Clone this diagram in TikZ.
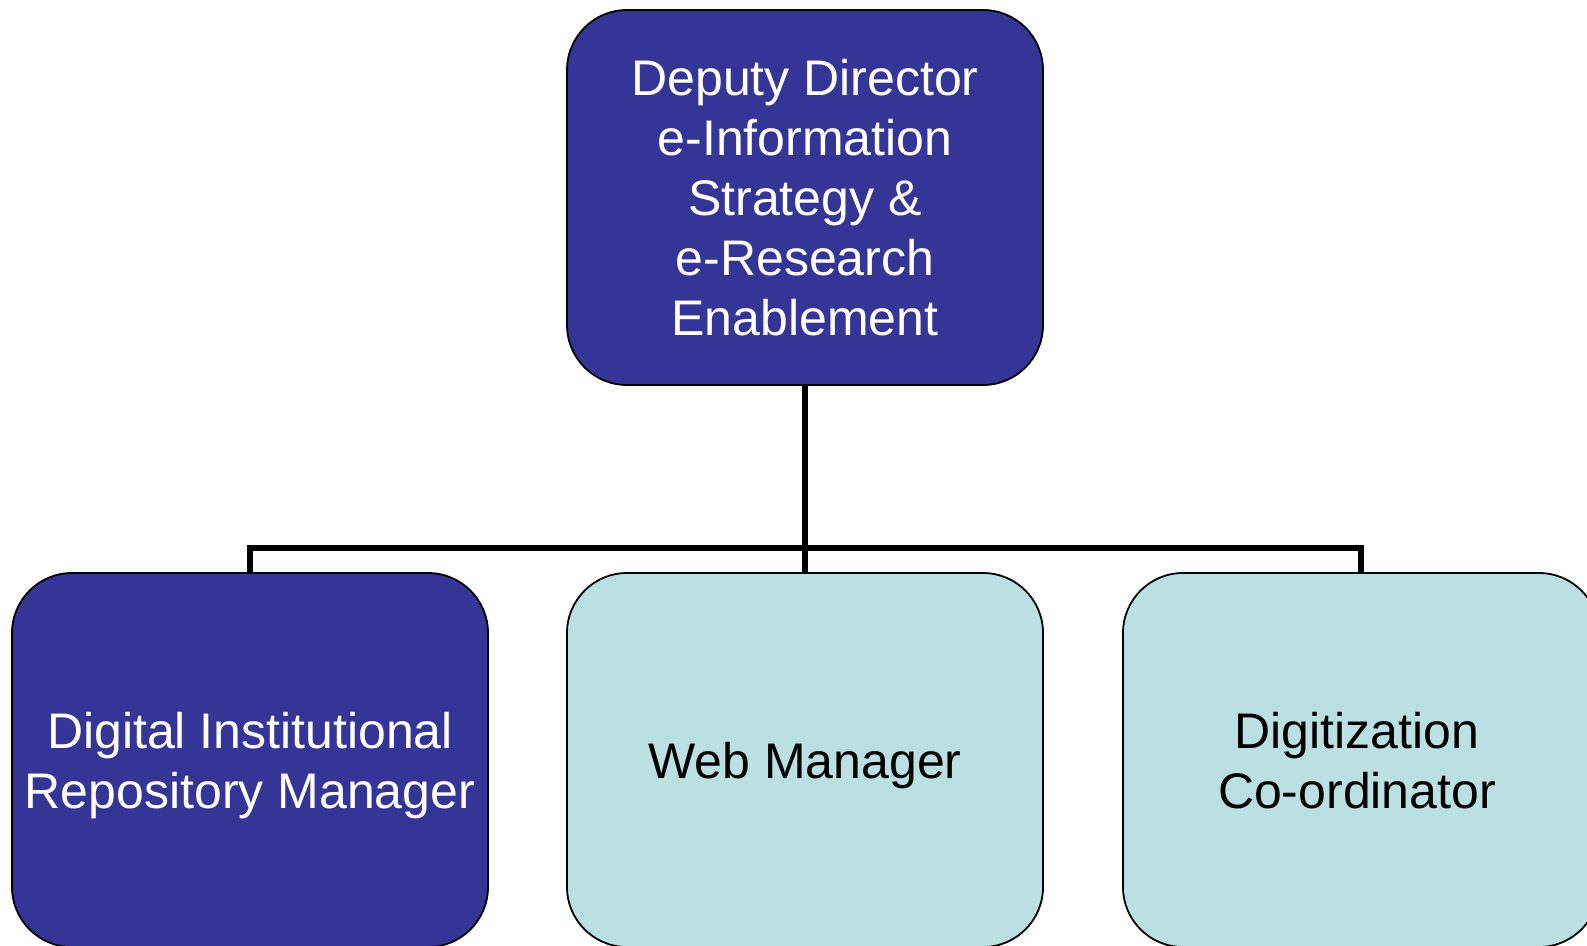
\documentclass[tikz,border=0pt]{standalone}
\usepackage{fontspec}
\setmainfont{Liberation Sans}
\definecolor{darkbox}{RGB}{53,53,151}
\definecolor{lightbox}{RGB}{187,224,227}
\tikzset{
  orgbox/.style={draw=black, line width=1.8pt, rounded corners=60pt, minimum width=476pt, minimum height=374pt, inner sep=0pt},
  darkstyle/.style={orgbox, fill=darkbox},
  lightstyle/.style={orgbox, fill=lightbox},
  boxtext/.style={align=center, inner sep=0pt, font=\fontsize{50}{60}\selectfont},
  conn/.style={line width=6pt, line join=miter}
}
\begin{document}
\begin{tikzpicture}[x=1pt,y=1pt]
\useasboundingbox (0,0) rectangle (1587,-945);
\clip (0,0) rectangle (1587,-945);
\fill[white] (0,0) rectangle (1587,-945);
\node[darkstyle, minimum height=375pt, boxtext, text=white] (top) at (805,-197.5) {Deputy Director\\e-Information\\Strategy \&\\e-Research\\Enablement};
\node[darkstyle] (l) at (250,-760) {};
\node[lightstyle] (m) at (805,-760) {};
\node[lightstyle] (r) at (1361,-760) {};
\node[boxtext, text=white] (lt) at ([yshift=-6pt]l.center) {Digital Institutional\\Repository Manager};
\node[boxtext, text=black] (mt) at ([yshift=-6pt]m.center) {Web Manager};
\node[boxtext, text=black] (rt) at ([xshift=-4pt,yshift=-1pt]r.center) {Digitization\\Co-ordinator};
\coordinate (j) at (805,-548);
\draw[conn] (top.south) -- (m.north);
\draw[conn] (l.north) -- (l.north |- j) -- (r.north |- j) -- (r.north);
\end{tikzpicture}
\end{document}
